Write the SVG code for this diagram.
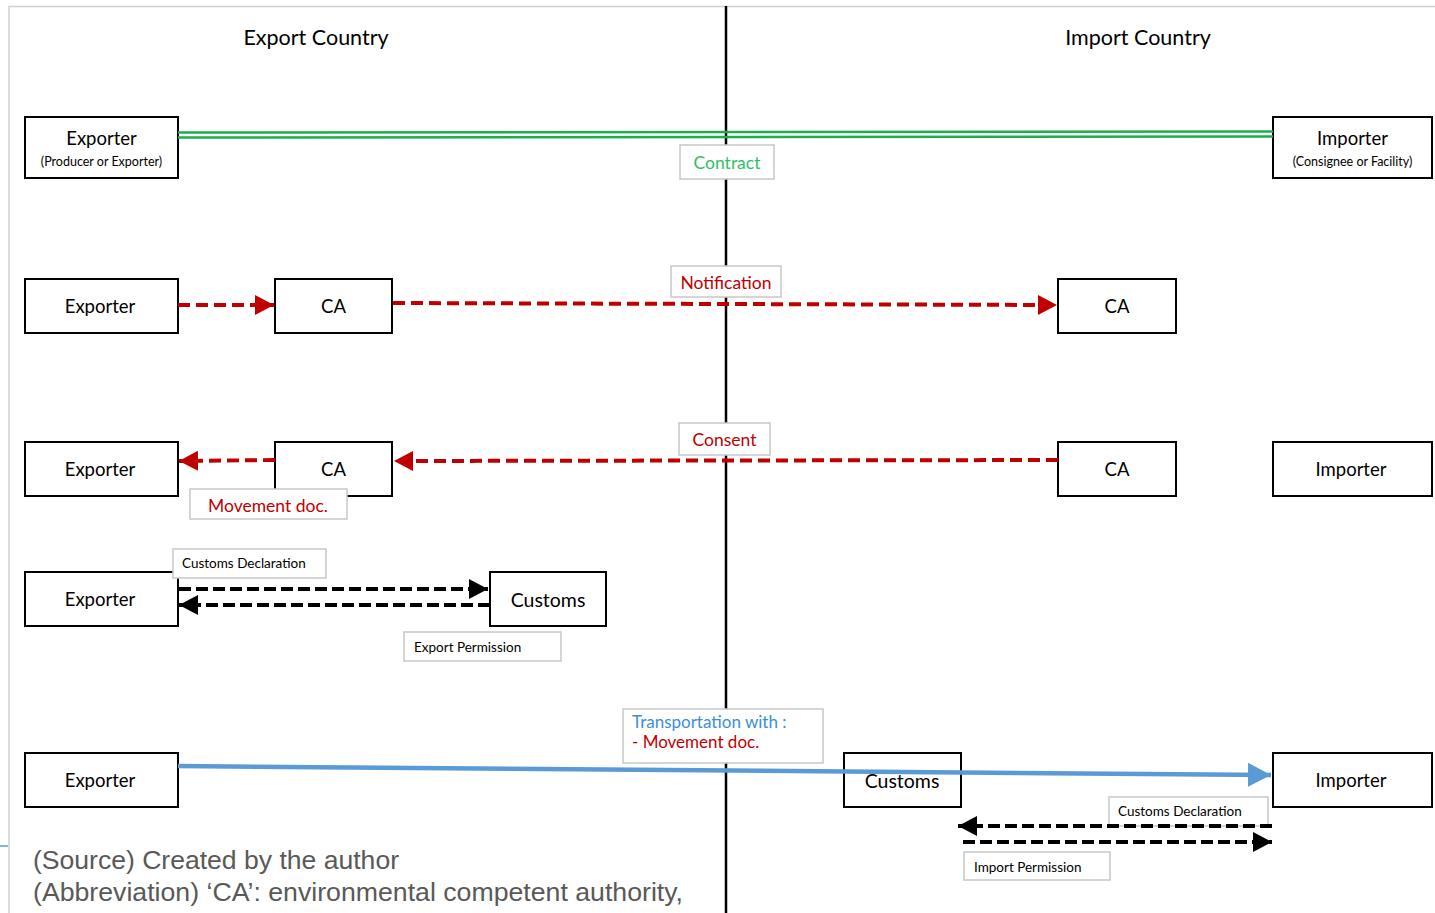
<svg xmlns="http://www.w3.org/2000/svg" width="1435" height="913" viewBox="0 0 1435 913">
<style>
.box{fill:#fff;stroke:#000;stroke-width:2}
.lbl{fill:#fff;stroke:#c8c8c8;stroke-width:1.5}
.t{font-family:Lato,"Open Sans","Liberation Sans",sans-serif;fill:#000}
.big{font-size:18.5px;text-anchor:middle}
.sm{font-size:12.5px;text-anchor:middle}
.hd{font-size:21.5px;text-anchor:middle}
.lt{font-size:13.5px}
.red{fill:#c00000}
.rdash{stroke:#c00000;stroke-width:4;stroke-dasharray:12 6;fill:none}
.kdash{stroke:#000;stroke-width:4;stroke-dasharray:12 5;fill:none}
.foot{font-family:"Liberation Sans",Arial,sans-serif;font-size:26px;fill:#595959}
</style>
<defs>
<marker id="ar" markerUnits="userSpaceOnUse" markerWidth="21" markerHeight="22" refX="19" refY="11" orient="auto"><path d="M0,1 L19,11 L0,21 Z" fill="#c00000"/></marker>
<marker id="ak" markerUnits="userSpaceOnUse" markerWidth="21" markerHeight="22" refX="19" refY="11" orient="auto"><path d="M0,1 L19,11 L0,21 Z" fill="#000"/></marker>
<marker id="ab" markerUnits="userSpaceOnUse" markerWidth="24" markerHeight="26" refX="23" refY="13" orient="auto"><path d="M0,1 L23,13 L0,25 Z" fill="#5b9bd5"/></marker>
</defs>
<rect width="1435" height="913" fill="#fff"/>
<g id="frame">
<line x1="9" y1="6.5" x2="1435" y2="6.5" stroke="#d0d0d0" stroke-width="1.5"/>
<line x1="9" y1="6" x2="9" y2="913" stroke="#d0d0d0" stroke-width="1.5"/>
<line x1="0" y1="846" x2="8" y2="846" stroke="#5b9bd5" stroke-width="1.5"/>
<line x1="726" y1="6" x2="726" y2="913" stroke="#000" stroke-width="2.5"/>
</g>
<text class="t hd" x="316" y="45">Export Country</text>
<text class="t hd" x="1138" y="45">Import Country</text>

<g id="exporter1"><rect class="box" x="25" y="117" width="153" height="61"/><text class="t big" x="101.5" y="145">Exporter</text><text class="t sm" x="101.5" y="166">(Producer or Exporter)</text></g>
<g id="importer1"><rect class="box" x="1273" y="117" width="159" height="61"/><text class="t big" x="1352.5" y="145">Importer</text><text class="t sm" x="1352.5" y="166">(Consignee or Facility)</text></g>
<g id="contract"><rect class="lbl" x="680" y="145" width="94" height="34"/><text class="t big" x="727" y="169" style="fill:#2fbf63;font-size:17.5px">Contract</text></g>

<g id="exporter2"><rect class="box" x="25" y="279" width="153" height="54"/><text class="t big" x="100" y="313">Exporter</text></g>
<g id="ca2a"><rect class="box" x="275" y="279" width="117" height="54"/><text class="t big" x="333.5" y="313">CA</text></g>
<g id="ca2b"><rect class="box" x="1058" y="279" width="118" height="54"/><text class="t big" x="1117" y="313">CA</text></g>
<g id="notification"><rect class="lbl" x="671" y="266" width="110" height="31"/><text class="t big red" x="726" y="289" style="font-size:17.5px">Notification</text></g>

<g id="exporter3"><rect class="box" x="25" y="442" width="153" height="54"/><text class="t big" x="100" y="476">Exporter</text></g>
<g id="ca3a"><rect class="box" x="275" y="442" width="117" height="54"/><text class="t big" x="333.5" y="476">CA</text></g>
<g id="ca3b"><rect class="box" x="1058" y="442" width="118" height="54"/><text class="t big" x="1117" y="476">CA</text></g>
<g id="importer3"><rect class="box" x="1273" y="442" width="159" height="54"/><text class="t big" x="1351" y="476">Importer</text></g>
<g id="consent"><rect class="lbl" x="679" y="423" width="91" height="32"/><text class="t big red" x="724.5" y="446" style="font-size:17.5px">Consent</text></g>
<g id="movdoc"><rect class="lbl" x="190" y="489" width="157" height="30"/><text class="t big red" x="268" y="512" style="font-size:17.5px">Movement doc.</text></g>

<g id="exporter4"><rect class="box" x="25" y="572" width="153" height="54"/><text class="t big" x="100" y="606">Exporter</text></g>
<g id="customs4"><rect class="box" x="490" y="572" width="116" height="54"/><text class="t big" x="548" y="607" style="font-size:19.5px">Customs</text></g>
<g id="custdecl4"><rect class="lbl" x="173" y="549" width="153" height="29"/><text class="t lt" x="182" y="568">Customs Declaration</text></g>
<g id="exportperm"><rect class="lbl" x="404" y="632" width="157" height="29"/><text class="t lt" x="414" y="652">Export Permission</text></g>

<g id="exporter5"><rect class="box" x="25" y="753" width="153" height="54"/><text class="t big" x="100" y="787">Exporter</text></g>
<g id="customs5"><rect class="box" x="844" y="753" width="117" height="54"/><text class="t big" x="902" y="788" style="font-size:19.5px">Customs</text></g>
<g id="importer5"><rect class="box" x="1273" y="753" width="159" height="54"/><text class="t big" x="1351" y="787">Importer</text></g>
<g id="transport"><rect class="lbl" x="623" y="709" width="200" height="54"/><text class="t" x="632" y="728" style="font-size:17px;fill:#3a8fd8">Transportation with :</text><text class="t red" x="632" y="748" style="font-size:17px">- Movement doc.</text></g>
<g id="custdecl5"><rect class="lbl" x="1109" y="797" width="159" height="29"/><text class="t lt" x="1118" y="816">Customs Declaration</text></g>
<g id="importperm"><rect class="lbl" x="964" y="852" width="146" height="28"/><text class="t lt" x="974" y="872">Import Permission</text></g>

<g id="connectors">
<line x1="178" y1="132.5" x2="1273" y2="131.5" stroke="#1aae4c" stroke-width="2.5"/>
<line x1="178" y1="137.5" x2="1273" y2="136.5" stroke="#1aae4c" stroke-width="2.5"/>
<line class="rdash" x1="178" y1="305" x2="274" y2="305" marker-end="url(#ar)"/>
<line class="rdash" x1="393" y1="303" x2="1057" y2="305" marker-end="url(#ar)"/>
<line class="rdash" x1="275" y1="460" x2="179" y2="461" marker-end="url(#ar)"/>
<line class="rdash" x1="1058" y1="460" x2="394" y2="461" marker-end="url(#ar)"/>
<line class="kdash" x1="179" y1="589" x2="488" y2="589" marker-end="url(#ak)"/>
<line class="kdash" x1="490" y1="605" x2="179" y2="605" marker-end="url(#ak)"/>
<line class="kdash" x1="1272" y1="826" x2="958" y2="826" marker-end="url(#ak)"/>
<line class="kdash" x1="963" y1="842" x2="1272" y2="842" marker-end="url(#ak)"/>
<line x1="178" y1="766" x2="1271" y2="775" stroke="#5b9bd5" stroke-width="4.5" marker-end="url(#ab)"/>
</g>

<text class="foot" x="33" y="869" textLength="366" lengthAdjust="spacingAndGlyphs">(Source) Created by the author</text>
<text class="foot" x="33" y="901" textLength="650" lengthAdjust="spacingAndGlyphs">(Abbreviation) ‘CA’: environmental competent authority,</text>
</svg>
